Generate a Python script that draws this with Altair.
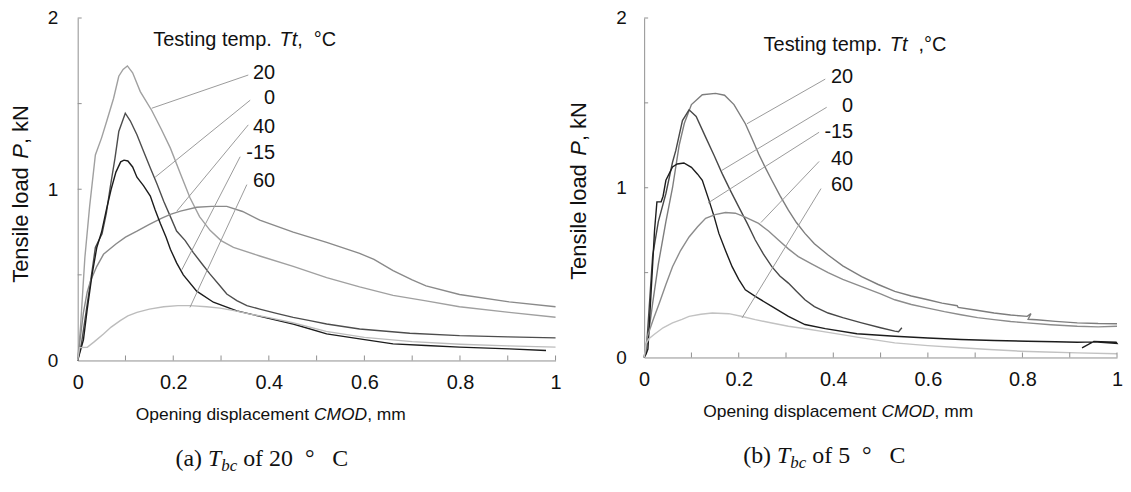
import altair as alt
import pandas as pd

SANS = "Liberation Sans"
NARROW = "Liberation Sans Narrow"
SERIF = "Liberation Serif"
AX = "#8f8f8f"
INK = "#111111"

# ---------------- panel (a): Tbc of 20 °C ----------------
a_names = ["20", "0", "40", "-15", "60"]
a_colors = ["#a0a0a0", "#4d4d4d", "#8a8a8a", "#1c1c1c", "#bcbcbc"]

a20_x = [0, 0.006, 0.015, 0.025, 0.037, 0.05, 0.061, 0.075, 0.086, 0.095, 0.104, 0.115, 0.131, 0.155, 0.175,
         0.194, 0.215, 0.235, 0.255, 0.277, 0.3, 0.326, 0.381, 0.451, 0.521, 0.59, 0.66, 0.729, 0.799, 0.903, 1.0]
a20_y = [0, 0.2, 0.6, 0.9, 1.2, 1.3, 1.4, 1.53, 1.66, 1.7, 1.72, 1.68, 1.57, 1.46, 1.35,
         1.24, 1.09, 0.95, 0.84, 0.76, 0.70, 0.66, 0.61, 0.55, 0.484, 0.43, 0.38, 0.348, 0.314, 0.281, 0.252]

a0_x = [0, 0.008, 0.02, 0.03, 0.037, 0.051, 0.06, 0.068, 0.078, 0.086, 0.0996, 0.11, 0.124, 0.138, 0.152,
        0.166, 0.18, 0.194, 0.207, 0.225, 0.242, 0.26, 0.277, 0.295, 0.312, 0.333, 0.354, 0.381, 0.416, 0.451,
        0.486, 0.521, 0.59, 0.695, 0.799, 0.9, 1.0]
a0_y = [0, 0.1, 0.33, 0.52, 0.66, 0.74, 0.86, 1.01, 1.18, 1.337, 1.444, 1.40, 1.318, 1.22, 1.124,
        1.03, 0.93, 0.84, 0.756, 0.70, 0.63, 0.565, 0.504, 0.445, 0.388, 0.35, 0.32, 0.30, 0.275, 0.252,
        0.233, 0.213, 0.184, 0.159, 0.145, 0.138, 0.132]

a40_x = [0, 0.005, 0.012, 0.02, 0.027, 0.04, 0.054, 0.08, 0.1, 0.124, 0.15, 0.175, 0.194, 0.215, 0.249,
         0.28, 0.312, 0.345, 0.381, 0.451, 0.521, 0.59, 0.62, 0.66, 0.7, 0.729, 0.799, 0.903, 1.0]
a40_y = [0, 0.12, 0.28, 0.4, 0.465, 0.55, 0.62, 0.68, 0.72, 0.755, 0.795, 0.83, 0.853, 0.872, 0.895,
         0.9, 0.9, 0.87, 0.82, 0.75, 0.69, 0.625, 0.59, 0.525, 0.47, 0.436, 0.385, 0.342, 0.314]

am15_x = [0, 0.005, 0.012, 0.02, 0.03, 0.04, 0.05, 0.06, 0.07, 0.08, 0.09, 0.097, 0.105, 0.115, 0.124,
          0.138, 0.152, 0.162, 0.173, 0.185, 0.194, 0.207, 0.221, 0.249, 0.284, 0.333, 0.375, 0.451, 0.521, 0.59,
          0.66, 0.729, 0.799, 0.903, 0.98]
am15_y = [0, 0.05, 0.12, 0.3, 0.5, 0.66, 0.75, 0.88, 1.0, 1.1, 1.16, 1.17, 1.165, 1.13, 1.07,
          1.02, 0.96, 0.88, 0.80, 0.72, 0.65, 0.57, 0.5, 0.405, 0.34, 0.29, 0.262, 0.213, 0.155, 0.126,
          0.097, 0.087, 0.078, 0.068, 0.058]

a60_x = [0, 0.004, 0.02, 0.035, 0.054, 0.07, 0.089, 0.105, 0.124, 0.15, 0.18, 0.21, 0.235, 0.27, 0.298,
         0.33, 0.361, 0.4, 0.45, 0.52, 0.6, 0.7, 0.8, 0.9, 1.0]
a60_y = [0, 0.075, 0.077, 0.11, 0.155, 0.195, 0.233, 0.26, 0.281, 0.3, 0.314, 0.32, 0.32, 0.314, 0.306,
         0.29, 0.271, 0.25, 0.22, 0.17, 0.135, 0.11, 0.095, 0.085, 0.078]

a_label_x = [0.413, 0.413, 0.413, 0.413, 0.413]
a_label_y = [1.676, 1.531, 1.366, 1.211, 1.047]
a_lead_x1 = [0.357, 0.361, 0.357, 0.34, 0.354]
a_lead_y1 = [1.667, 1.52, 1.376, 1.19, 1.027]
a_lead_x2 = [0.155, 0.162, 0.2075, 0.218, 0.235]
a_lead_y2 = [1.473, 1.07, 0.872, 0.53, 0.31]

# ---------------- panel (b): Tbc of 5 °C ----------------
b_names = ["20", "0", "-15", "40", "60"]
b_colors = ["#7d7d7d", "#484848", "#1c1c1c", "#8c8c8c", "#c2c2c2"]

b20_x = [0, 0.005, 0.018, 0.03, 0.046, 0.06, 0.074, 0.085, 0.1, 0.123, 0.151, 0.17, 0.19, 0.214, 0.228,
         0.242, 0.256, 0.27, 0.287, 0.305, 0.322, 0.34, 0.36, 0.389, 0.42, 0.46, 0.495, 0.53, 0.565, 0.6,
         0.63, 0.662, 0.664, 0.7, 0.74, 0.775, 0.81, 0.818, 0.812, 0.83, 0.87, 0.916, 0.96, 1.0]
b20_y = [0, 0.05, 0.32, 0.55, 0.8, 1.0, 1.25, 1.38, 1.49, 1.548, 1.556, 1.545, 1.49, 1.377, 1.29,
         1.2, 1.12, 1.044, 0.955, 0.868, 0.795, 0.731, 0.67, 0.604, 0.54, 0.477, 0.43, 0.389, 0.362, 0.34,
         0.32, 0.305, 0.295, 0.28, 0.262, 0.25, 0.242, 0.258, 0.225, 0.222, 0.213, 0.204, 0.2, 0.199]

b0_x = [0, 0.006, 0.018, 0.03, 0.046, 0.06, 0.067, 0.081, 0.095, 0.11, 0.13, 0.148, 0.165, 0.183, 0.2,
        0.218, 0.235, 0.252, 0.27, 0.287, 0.305, 0.322, 0.34, 0.36, 0.389, 0.42, 0.46, 0.5, 0.53, 0.538, 0.545]
b0_y = [0, 0.1, 0.6, 0.8, 0.966, 1.15, 1.22, 1.396, 1.459, 1.42, 1.298, 1.19, 1.083, 0.98, 0.887,
        0.79, 0.692, 0.61, 0.535, 0.48, 0.438, 0.39, 0.34, 0.3, 0.262, 0.235, 0.204, 0.175, 0.155, 0.152, 0.175]

bm15_x = [0, 0.004, 0.008, 0.015, 0.022, 0.027, 0.036, 0.04, 0.046, 0.06, 0.07, 0.084, 0.1, 0.113, 0.123,
          0.137, 0.148, 0.158, 0.172, 0.186, 0.2, 0.214, 0.235, 0.27, 0.305, 0.34, 0.383, 0.45, 0.53, 0.6,
          0.67, 0.74, 0.81, 0.87, 0.916, 0.951, 1.0, 0.998, 0.951, 0.926]
bm15_y = [0, 0.02, 0.05, 0.4, 0.75, 0.917, 0.917, 0.95, 1.044, 1.122, 1.14, 1.146, 1.12, 1.08, 1.044,
          0.927, 0.83, 0.731, 0.63, 0.535, 0.46, 0.399, 0.36, 0.301, 0.242, 0.194, 0.17, 0.14, 0.125, 0.115,
          0.106, 0.1, 0.096, 0.093, 0.09, 0.092, 0.082, 0.09, 0.095, 0.057]

b40_x = [0, 0.003, 0.007, 0.02, 0.032, 0.046, 0.06, 0.077, 0.095, 0.113, 0.13, 0.15, 0.172, 0.193, 0.215,
         0.242, 0.263, 0.284, 0.305, 0.326, 0.355, 0.389, 0.42, 0.46, 0.5, 0.53, 0.565, 0.6, 0.635, 0.67,
         0.705, 0.74, 0.775, 0.81, 0.86, 0.916, 0.96, 1.0]
b40_y = [0, 0.06, 0.125, 0.23, 0.32, 0.43, 0.535, 0.63, 0.71, 0.77, 0.82, 0.842, 0.854, 0.85, 0.825,
         0.79, 0.745, 0.692, 0.64, 0.594, 0.55, 0.5, 0.46, 0.418, 0.375, 0.34, 0.312, 0.291, 0.27, 0.252,
         0.235, 0.223, 0.212, 0.204, 0.193, 0.184, 0.18, 0.184]

b60_x = [0, 0.004, 0.01, 0.021, 0.04, 0.06, 0.08, 0.095, 0.12, 0.144, 0.179, 0.205, 0.235, 0.27, 0.305,
         0.345, 0.389, 0.45, 0.53, 0.6, 0.67, 0.73, 0.796, 0.85, 0.916, 1.0]
b60_y = [0, 0.08, 0.11, 0.135, 0.175, 0.204, 0.225, 0.242, 0.255, 0.262, 0.258, 0.243, 0.223, 0.203, 0.184,
         0.168, 0.148, 0.12, 0.086, 0.07, 0.057, 0.047, 0.037, 0.032, 0.027, 0.022]

b_label_x = [0.442, 0.442, 0.442, 0.442, 0.442]
b_label_y = [1.65, 1.484, 1.327, 1.171, 1.015]
b_lead_x1 = [0.383, 0.386, 0.37, 0.37, 0.374]
b_lead_y1 = [1.64, 1.474, 1.327, 1.155, 0.995]
b_lead_x2 = [0.2175, 0.163, 0.135, 0.247, 0.207]
b_lead_y2 = [1.377, 1.10, 0.91, 0.795, 0.233]

x_tick_labels = [0, 0.2, 0.4, 0.6, 0.8, 1]
y_tick_labels = [0, 1, 2]
x_minor = [0.1, 0.2, 0.3, 0.4, 0.5, 0.6, 0.7, 0.8, 0.9, 1.0]
y_minor = [0.5, 1.0, 1.5, 2.0]

# ---------------- text width helpers (Arial / Times metrics) ----------------
SANS_W = {' ': 278, '.': 278, ',': 278, '-': 333, '°': 400, 'A': 667, 'C': 722, 'D': 722, 'M': 833,
          'N': 722, 'O': 778, 'P': 667, 'T': 611, 'a': 556, 'b': 556, 'c': 500, 'd': 556, 'e': 556,
          'g': 556, 'i': 222, 'k': 500, 'l': 222, 'm': 833, 'n': 556, 'o': 556, 'p': 556, 's': 500, 't': 278}
SERIF_W = {' ': 250, '(': 333, ')': 333, 'a': 444, 'b': 500, 'c': 444, 'f': 333, 'o': 500, '°': 400,
           'C': 667, 'T': 556}


def tw(s, size, font):
    if font == SERIF:
        return sum(SERIF_W.get(ch, 500) for ch in s) * size / 1000.0
    return sum(SANS_W.get(ch, 556) for ch in s) * size / 1000.0


def piece(text, x, y, size, font, style, angle=0, baseline="alphabetic"):
    kw = dict(align="left", baseline=baseline, font=font, fontSize=size, fontStyle=style, color=INK)
    if angle:
        kw["angle"] = angle
    return alt.Chart(pd.DataFrame({"t": [text]})).mark_text(**kw).encode(
        x=alt.value(x), y=alt.value(y), text="t:N")


def run(parts, x0, y0, vertical=False, center=False):
    total = sum(tw(t, s, f) for t, f, st, s, dy in parts)
    if center:
        x0 = x0 - total / 2.0
    out, pos = [], 0.0
    for text, font, style, size, dy in parts:
        lead = len(text) - len(text.lstrip(' '))
        core = text.strip(' ')
        start = pos + tw(' ' * lead, size, font)
        if vertical:
            out.append(piece(core, x0 + dy, y0 - start, size, font, style, angle=270, baseline="middle"))
        else:
            out.append(piece(core, x0 + start, y0 + dy, size, font, style))
        pos += tw(text, size, font)
    return out


def long_frame(names, xs, ys):
    rows = []
    for n, xv, yv in zip(names, xs, ys):
        for i, (a, b) in enumerate(zip(xv, yv)):
            rows.append({"s": n, "i": i, "x": a, "y": b})
    return pd.DataFrame(rows)


def panel(names, colors, xs, ys, lab_x, lab_y, lx1, ly1, lx2, ly2, W, H, ylab_pad,
          ytitle_x, legend_parts, legend_x, legend_y, title_cx, caption_parts, caption_cx):
    xsc = alt.Scale(domain=[0, 1], nice=False, zero=False)
    ysc = alt.Scale(domain=[0, 2], nice=False)
    xax = alt.Axis(values=x_tick_labels, format="~g", ticks=False, tickSize=0, grid=False,
                   domainColor=AX, domainWidth=1, labelFont=NARROW + ", " + SANS, labelFontSize=20,
                   labelColor=INK, labelPadding=12, labelFlush=False, title=None)
    yax = alt.Axis(values=y_tick_labels, format="~g", ticks=False, tickSize=0, grid=False,
                   domainColor=AX, domainWidth=1, labelFont=SANS, labelFontSize=19, labelColor=INK,
                   labelPadding=ylab_pad, labelFlush=False, title=None)
    df = long_frame(names, xs, ys)
    lines = alt.Chart(df).mark_line(strokeWidth=1.4).encode(
        x=alt.X("x:Q", scale=xsc, axis=xax),
        y=alt.Y("y:Q", scale=ysc, axis=yax),
        color=alt.Color("s:N", scale=alt.Scale(domain=names, range=colors), legend=None),
        detail="s:N",
        order="i:Q",
    )
    xt = alt.Chart(pd.DataFrame({"x": x_minor})).mark_rule(color=AX, strokeWidth=1).encode(
        x=alt.X("x:Q", scale=xsc, axis=xax), y=alt.value(H), y2=alt.value(H - 5))
    yt = alt.Chart(pd.DataFrame({"y": y_minor})).mark_rule(color=AX, strokeWidth=1).encode(
        y=alt.Y("y:Q", scale=ysc, axis=yax), x=alt.value(0), x2=alt.value(4))
    lead_df = pd.DataFrame({"x": lx1, "y": ly1, "x2": lx2, "y2": ly2})
    leads = alt.Chart(lead_df).mark_rule(color="#9a9a9a", strokeWidth=1).encode(
        x=alt.X("x:Q", scale=xsc, axis=xax), y=alt.Y("y:Q", scale=ysc, axis=yax),
        x2="x2:Q", y2="y2:Q")
    lab_df = pd.DataFrame({"lab": names, "x": lab_x, "y": lab_y})
    labs = alt.Chart(lab_df).mark_text(align="right", baseline="middle", font=SANS, fontSize=20,
                                       color=INK).encode(
        x=alt.X("x:Q", scale=xsc, axis=xax), y=alt.Y("y:Q", scale=ysc, axis=yax), text="lab:N")

    layers = [lines, xt, yt, leads, labs]
    # y-axis title (rotated)
    layers += run([("Tensile load ", SANS, "normal", 22, 0), ("P", SANS, "italic", 22, 0),
                   (", kN", SANS, "normal", 22, 0)], ytitle_x, H - 78, vertical=True)
    # x-axis title
    layers += run([("Opening displacement ", SANS, "normal", 17.5, 0), ("CMOD", SANS, "italic", 17.5, 0),
                   (", mm", SANS, "normal", 17.5, 0)], title_cx, H + 60, center=True)
    # legend title
    layers += run(legend_parts, legend_x, legend_y)
    # caption
    layers += run(caption_parts, caption_cx, H + 106, center=True)
    return alt.layer(*layers).properties(width=W, height=H)


left = panel(a_names, a_colors, [a20_x, a0_x, a40_x, am15_x, a60_x],
             [a20_y, a0_y, a40_y, am15_y, a60_y], a_label_x, a_label_y,
             a_lead_x1, a_lead_y1, a_lead_x2, a_lead_y2, 480, 344, 20, -57,
             [("Testing temp. ", SANS, "normal", 20, 0), ("Tt", SANS, "italic", 20, 0),
              (",", SANS, "normal", 20, 0), ("  °C", SANS, "normal", 20, 0)], 76, 28,
             194,
             [("(a) ", SERIF, "normal", 24, 0), ("T", SERIF, "italic", 24, 0), ("bc", SERIF, "italic", 17, 5),
              (" of 20  ", SERIF, "normal", 24, 0), ("°", SERIF, "normal", 24, 0), ("   C", SERIF, "normal", 24, 0)],
             185)

right = panel(b_names, b_colors, [b20_x, b0_x, bm15_x, b40_x, b60_x],
              [b20_y, b0_y, bm15_y, b40_y, b60_y], b_label_x, b_label_y,
              b_lead_x1, b_lead_y1, b_lead_x2, b_lead_y2, 475, 341, 18, -65,
              [("Testing temp. ", SANS, "normal", 20, 0), ("Tt", SANS, "italic", 20, 0),
               ("  ,°C", SANS, "normal", 20, 0)], 120, 33,
              195,
              [("(b) ", SERIF, "normal", 24, 0), ("T", SERIF, "italic", 24, 0), ("bc", SERIF, "italic", 17, 5),
               (" of 5  ", SERIF, "normal", 24, 0), ("°", SERIF, "normal", 24, 0), ("   C", SERIF, "normal", 24, 0)],
              181)

chart = alt.hconcat(left, right, spacing=7).resolve_scale(
    color="independent", x="independent", y="independent"
).configure_view(stroke=None).properties(
    padding={"left": 2, "top": 0, "right": 0, "bottom": 0}, background="white")

chart.save("out.html", embed_options={"renderer": "svg", "actions": False})
